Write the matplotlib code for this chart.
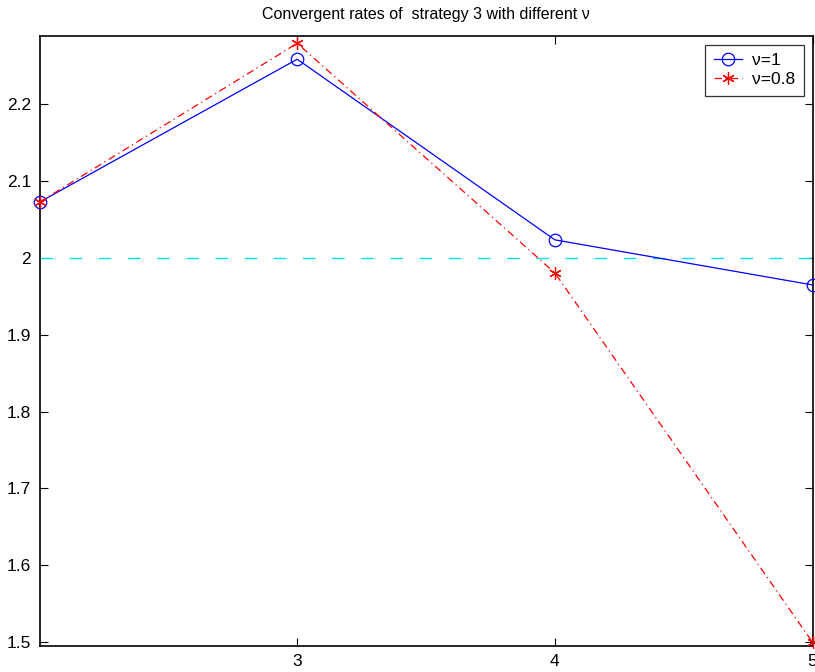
import matplotlib
matplotlib.use("Agg")
import matplotlib.pyplot as plt

plt.rcParams['font.family'] = ['Liberation Sans', 'DejaVu Sans']

# Refinement levels and observed convergence rates
levels = [2, 3, 4, 5]
rate_nu1 = [2.0726, 2.2587, 2.0235, 1.9648]
rate_nu08 = [2.0726, 2.2795, 1.9804, 1.4995]
reference_rate = 2.0

xticks = [3, 4, 5]
yticks = [1.5, 1.6, 1.7, 1.8, 1.9, 2.0, 2.1, 2.2]
ytick_labels = ['1.5', '1.6', '1.7', '1.8', '1.9', '2', '2.1', '2.2']

fig = plt.figure(figsize=(8.15, 6.72), dpi=100)
ax = fig.add_axes([0.0485, 0.0385, 0.9485, 0.908])

ax.plot(levels, rate_nu1, color='blue', linestyle='-', linewidth=0.9,
        marker='o', markersize=9, markerfacecolor='none',
        markeredgecolor='blue', markeredgewidth=0.9, label='\u03bd=1',
        clip_on=False, zorder=3)
ax.plot(levels, rate_nu08, color='red', linestyle=(0, (6, 3, 1, 3)),
        linewidth=0.9, marker=(6, 2, 0), markersize=9,
        markeredgecolor='red', markeredgewidth=0.9,
        label='\u03bd=0.8', clip_on=False, zorder=4)
ax.axhline(reference_rate, color='#00e5ee', linestyle=(0, (9, 12)),
           linewidth=1.0, zorder=2)

ax.set_xlim(2, 5)
ax.set_ylim(1.4945, 2.289)
ax.set_xticks(xticks)
ax.set_xticklabels([str(t) for t in xticks])
ax.set_yticks(yticks)
ax.set_yticklabels(ytick_labels)

ax.tick_params(direction='in', length=6, width=0.8, labelsize=12.5,
               top=True, right=True, pad=6)
for sp in ax.spines.values():
    sp.set_linewidth(1.2)

ax.set_title('Convergent rates of  strategy 3 with different \u03bd',
             fontsize=11.5, pad=12)

leg = ax.legend(loc='upper right', fontsize=12.5, frameon=True,
                fancybox=False, edgecolor='black', borderpad=0.5,
                handlelength=1.6, handletextpad=0.6, labelspacing=0.2,
                borderaxespad=0.5)
leg.get_frame().set_linewidth(0.9)

fig.savefig('out.png', dpi=100)
